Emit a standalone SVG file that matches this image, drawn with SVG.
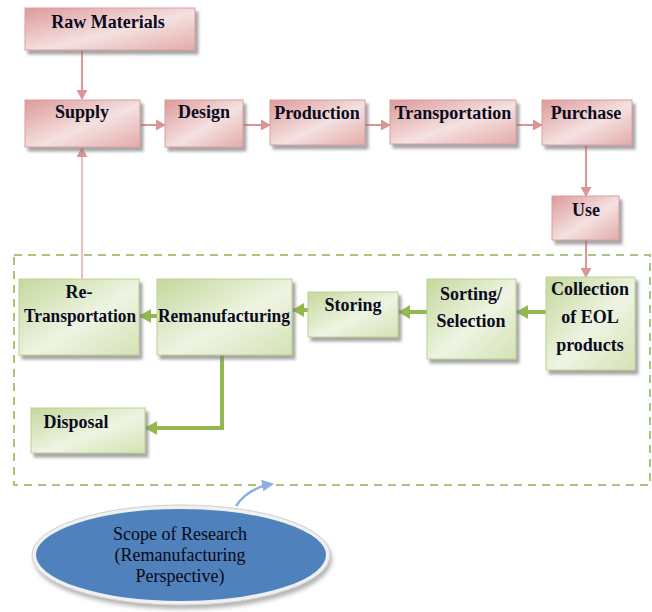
<svg xmlns="http://www.w3.org/2000/svg" width="652" height="612" viewBox="0 0 652 612">
<style>
.t{font-family:"Liberation Serif","Times New Roman",serif;font-weight:bold;font-size:18px;fill:#0b0b1e;text-anchor:middle}
.e{font-family:"Liberation Serif","Times New Roman",serif;font-size:18px;fill:#0a0a14;text-anchor:middle}
.p{fill:url(#pg);stroke:#d7a0a0;stroke-width:1;filter:url(#sh)}
.g{fill:url(#gg);stroke:#bcd190;stroke-width:1;filter:url(#sh)}
.pl{stroke:#d99694;stroke-width:2;fill:none}
.gl{stroke:#93b84f;stroke-width:4;fill:none}
</style>
<defs>
<linearGradient id="pg" x1="0" y1="0" x2="1" y2="1">
<stop offset="0" stop-color="#dc9a99"/>
<stop offset="0.55" stop-color="#f4e1e0"/>
<stop offset="1" stop-color="#e3abaa"/>
</linearGradient>
<linearGradient id="gg" x1="0" y1="0" x2="1" y2="1">
<stop offset="0" stop-color="#c4d89c"/>
<stop offset="0.55" stop-color="#eef4e2"/>
<stop offset="1" stop-color="#d3e2b4"/>
</linearGradient>
<filter id="sh" x="-10%" y="-10%" width="130%" height="140%">
<feDropShadow dx="3" dy="4" stdDeviation="1.5" flood-color="#7f7f7f" flood-opacity="0.7"/>
</filter>
<filter id="esh" x="-10%" y="-10%" width="130%" height="140%">
<feDropShadow dx="2" dy="4" stdDeviation="2" flood-color="#808080" flood-opacity="0.6"/>
</filter>
<marker id="pa" markerWidth="10" markerHeight="11" refX="9" refY="5.5" orient="auto" markerUnits="userSpaceOnUse">
<path d="M0,0 L10,5.5 L0,11 Z" fill="#d99694"/>
</marker>
<marker id="ga" markerWidth="12" markerHeight="14" refX="11" refY="7" orient="auto" markerUnits="userSpaceOnUse">
<path d="M0,0 L12,7 L0,14 Z" fill="#93b84f"/>
</marker>
<marker id="ba" markerWidth="12" markerHeight="12" refX="10" refY="6" orient="auto" markerUnits="userSpaceOnUse">
<path d="M0,0 L12,6 L0,12 Z" fill="#8eb0dc"/>
</marker>
</defs>

<rect x="14" y="255" width="636" height="230" fill="none" stroke="#a8c47a" stroke-width="2" stroke-dasharray="8,6"/>

<g id="connectors">
<line class="pl" x1="82" y1="50" x2="82" y2="99" marker-end="url(#pa)"/>
<line class="pl" x1="140" y1="125" x2="165" y2="125" marker-end="url(#pa)"/>
<line class="pl" x1="243" y1="125" x2="270" y2="125" marker-end="url(#pa)"/>
<line class="pl" x1="365" y1="125" x2="390" y2="125" marker-end="url(#pa)"/>
<line class="pl" x1="516" y1="125" x2="542" y2="125" marker-end="url(#pa)"/>
<line class="pl" x1="586" y1="145" x2="586" y2="196" marker-end="url(#pa)"/>
<line class="pl" x1="586" y1="240" x2="586" y2="277" marker-end="url(#pa)"/>
<line x1="82" y1="279" x2="82" y2="148" stroke="#d99694" stroke-width="1.2" marker-end="url(#pa)"/>
<line class="gl" x1="546" y1="312" x2="517" y2="312" marker-end="url(#ga)"/>
<line class="gl" x1="427" y1="312" x2="399" y2="312" marker-end="url(#ga)"/>
<line class="gl" x1="308" y1="310" x2="293" y2="310" marker-end="url(#ga)"/>
<line class="gl" x1="157" y1="316" x2="140" y2="316" marker-end="url(#ga)"/>
<polyline class="gl" points="222,355 222,428 146,428" marker-end="url(#ga)"/>
<path d="M236,506 Q248,488 272,484" stroke="#8eb0dc" stroke-width="2.5" fill="none" marker-end="url(#ba)"/>
</g>

<g id="raw-materials"><rect class="p" x="25" y="8" width="170" height="42"/><text class="t" x="108" y="28">Raw Materials</text></g>
<g id="supply"><rect class="p" x="25" y="100" width="115" height="47"/><text class="t" x="82" y="118">Supply</text></g>
<g id="design"><rect class="p" x="165" y="100" width="78" height="47"/><text class="t" x="204" y="118">Design</text></g>
<g id="production"><rect class="p" x="270" y="100" width="95" height="45"/><text class="t" x="317" y="119">Production</text></g>
<g id="transportation"><rect class="p" x="390" y="100" width="126" height="44"/><text class="t" x="453" y="119">Transportation</text></g>
<g id="purchase"><rect class="p" x="542" y="100" width="90" height="45"/><text class="t" x="586" y="119">Purchase</text></g>
<g id="use"><rect class="p" x="552" y="196" width="67" height="44"/><text class="t" x="586" y="216">Use</text></g>

<g id="collection"><rect class="g" x="546" y="277" width="89" height="93"/><text class="t" x="590" y="295">Collection</text><text class="t" x="590" y="323">of EOL</text><text class="t" x="590" y="351">products</text></g>
<g id="sorting"><rect class="g" x="427" y="279" width="89" height="80"/><text class="t" x="471" y="300">Sorting/</text><text class="t" x="471" y="327">Selection</text></g>
<g id="storing"><rect class="g" x="308" y="292" width="90" height="45"/><text class="t" x="353" y="311">Storing</text></g>
<g id="remanufacturing"><rect class="g" x="157" y="279" width="135" height="76"/><text class="t" x="224" y="322" textLength="132" lengthAdjust="spacingAndGlyphs">Remanufacturing</text></g>
<g id="re-transportation"><rect class="g" x="19" y="279" width="120" height="76"/><text class="t" x="79" y="298">Re-</text><text class="t" x="80" y="322" textLength="112" lengthAdjust="spacingAndGlyphs">Transportation</text></g>
<g id="disposal"><rect class="g" x="31" y="408" width="114" height="45"/><text class="t" x="76" y="428">Disposal</text></g>

<g id="scope">
<ellipse cx="181" cy="555" rx="147" ry="48" fill="#4f81bd" stroke="#f0f0f0" stroke-width="4" filter="url(#esh)"/>
<ellipse cx="181" cy="555" rx="149" ry="50" fill="none" stroke="#d0d0d0" stroke-width="1"/>
<text class="e" x="180" y="540">Scope of Research</text>
<text class="e" x="180" y="561">(Remanufacturing</text>
<text class="e" x="180" y="582">Perspective)</text>
</g>
</svg>
